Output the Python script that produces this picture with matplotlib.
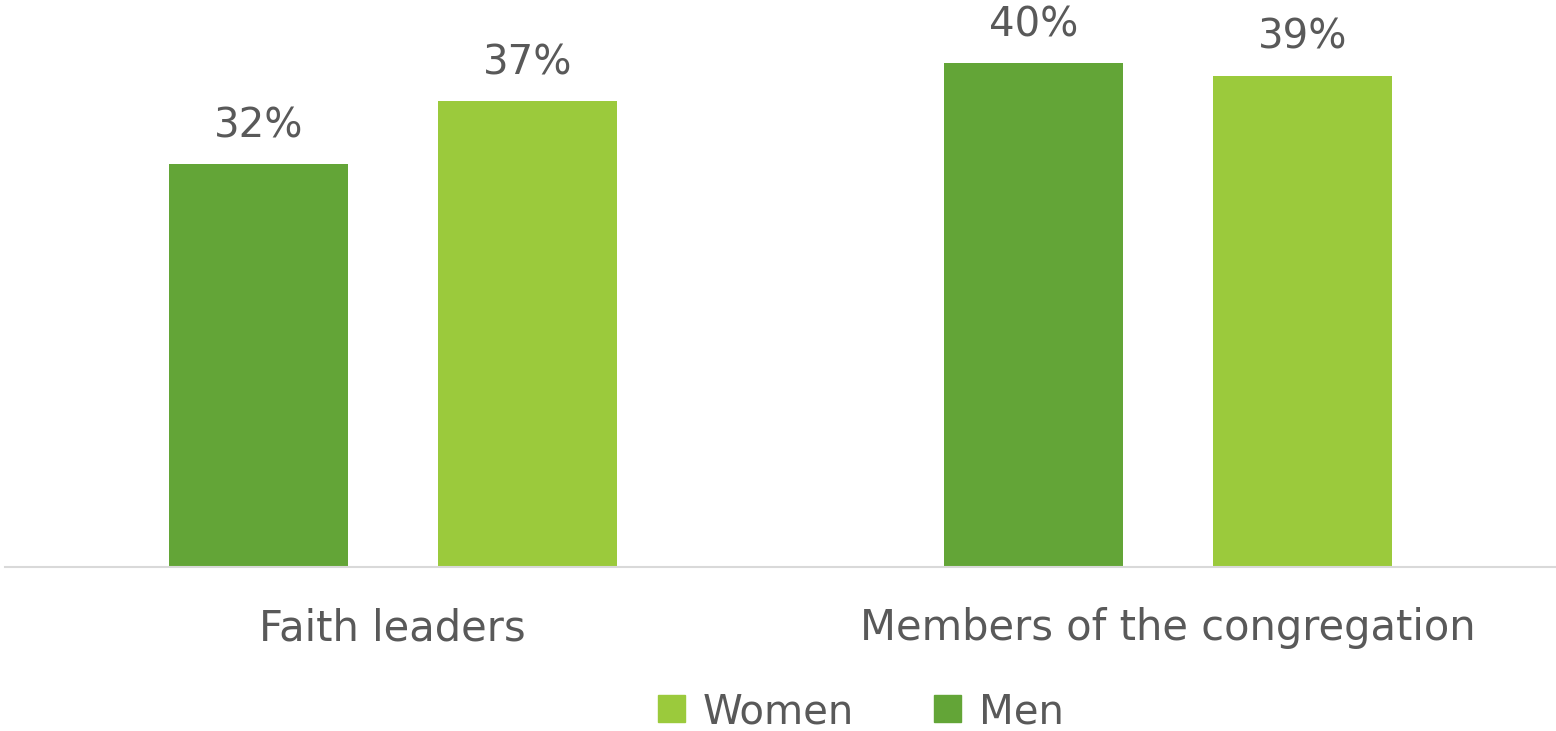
import numpy as np
import matplotlib.pyplot as plt
from matplotlib.patches import Patch

categories = ['Faith leaders', 'Members of the congregation']
men = [32, 40]
women = [37, 39]

men_color = '#63A537'
women_color = '#9BCA3C'
text_color = '#595959'

fig = plt.figure(figsize=(15.56, 7.31), dpi=100)
ax = fig.add_axes([5/1556, 1 - 567/731, 1551/1556, 567/731])

x = np.arange(len(categories))
w = 0.231
off = 0.1735
b_men = ax.bar(x - off, men, w, color=men_color, label='Men')
b_women = ax.bar(x + off, women, w, color=women_color, label='Women')

for bars, vals in [(b_men, men), (b_women, women)]:
    for r, v in zip(bars, vals):
        ax.text(r.get_x() + r.get_width()/2, v + 1.4, f'{v}%', ha='center', va='bottom',
                fontsize=29, color=text_color)

ax.set_xlim(-0.5, 1.5)
ax.set_ylim(0, 45)
ax.set_yticks([])
ax.set_xticks(x)
ax.set_xticklabels(categories, fontsize=30, color=text_color)
ax.tick_params(axis='x', length=0, pad=29)
for s in ['top', 'right', 'left']:
    ax.spines[s].set_visible(False)
ax.spines['bottom'].set_color('#D9D9D9')
ax.spines['bottom'].set_linewidth(1.5)
ax.patch.set_alpha(0)

handles = [Patch(color=women_color, label='Women'), Patch(color=men_color, label='Men')]
fig.legend(handles=handles, loc='center', bbox_to_anchor=(861/1556, 1 - 712/731), ncol=2,
           frameon=False, fontsize=29, labelcolor=text_color, handlelength=0.65,
           handleheight=0.65, handletextpad=0.45, columnspacing=2.0)

fig.savefig('out.png', dpi=100)
